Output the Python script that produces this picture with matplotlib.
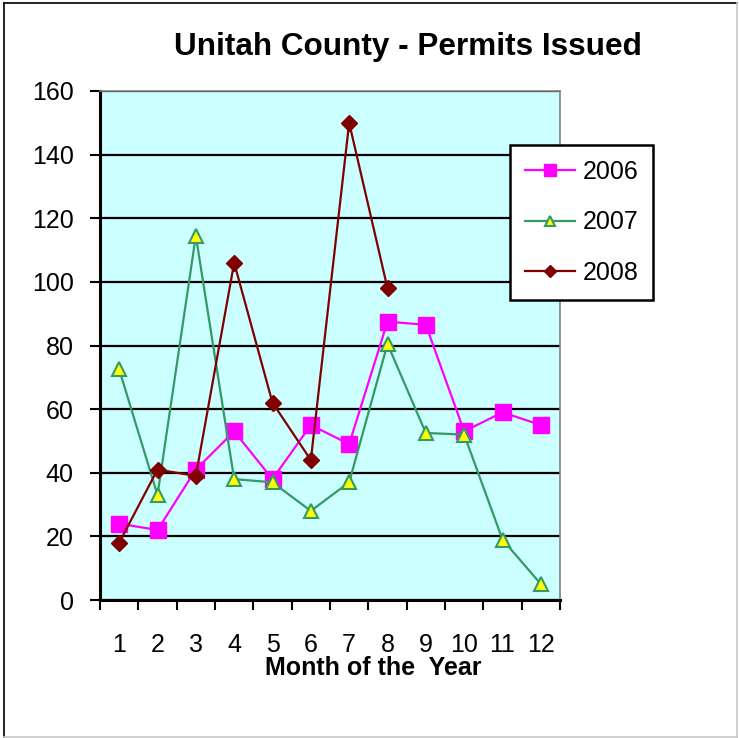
import matplotlib
matplotlib.use("Agg")
import matplotlib.pyplot as plt
from matplotlib.lines import Line2D

plt.rcParams['font.family'] = ['Liberation Sans', 'DejaVu Sans']

months = [1, 2, 3, 4, 5, 6, 7, 8, 9, 10, 11, 12]
month_labels = ['1', '2', '3', '4', '5', '6', '7', '8', '9', '10', '11', '12']
permits_2006 = [24, 22, 41, 53, 38, 55, 49, 87.5, 86.5, 53, 59, 55]
permits_2007 = [72.5, 33, 114.5, 38, 37, 28, 37, 80.5, 52.5, 52, 19, 5]
permits_2008 = [18, 41, 39, 106, 62, 44, 150, 98]
months_2008 = months[:len(permits_2008)]

W, H = 739, 738
fig = plt.figure(figsize=(W / 100, H / 100), dpi=100)
fig.patch.set_facecolor('white')

# outer border
fig.add_artist(Line2D([4 / W, 4 / W], [1 / H, 735 / H], color='black', lw=1.2))
fig.add_artist(Line2D([4 / W, 737 / W], [735 / H, 735 / H], color='black', lw=1.2))
fig.add_artist(Line2D([737 / W, 737 / W], [1 / H, 735 / H], color='#c8c8c8', lw=1.2))
fig.add_artist(Line2D([4 / W, 737 / W], [1 / H, 1 / H], color='#c8c8c8', lw=1.2))

ax = fig.add_axes([100 / W, (H - 600) / H, 460 / W, 509 / H])
ax.set_facecolor('#CCFFFF')

ax.plot(months, permits_2006, color='#FF00FF', lw=1.6, marker='s', ms=11.5,
        mfc='#FF00FF', mec='#FF00FF', label='2006', zorder=3)
ax.plot(months, permits_2007, color='#339966', lw=1.6, marker='^', ms=10.5,
        mfc='#FFFF00', mec='#339966', mew=1.5, label='2007', zorder=4)
ax.plot(months_2008, permits_2008, color='#800000', lw=1.6, marker='D', ms=8.5,
        mfc='#800000', mec='#800000', label='2008', zorder=5)

ax.set_xlim(0.5, 12.5)
ax.set_ylim(0, 160)
ax.set_yticks(range(0, 161, 20))
ax.yaxis.grid(True, color='black', lw=1.6)
ax.set_axisbelow(True)

ax.set_xticks([m - 0.5 for m in months] + [12.5])
ax.set_xticklabels([])
ax.set_xticks(months, minor=True)
ax.set_xticklabels(month_labels, minor=True)
ax.tick_params(axis='x', which='major', direction='out', length=7, width=1.5, color='black')
ax.tick_params(axis='x', which='minor', length=0, labelsize=18, pad=24)
ax.tick_params(axis='y', direction='out', length=7, width=1.5, labelsize=18, pad=12)

for s in ['left', 'bottom']:
    ax.spines[s].set_color('black')
    ax.spines[s].set_linewidth(2.2)
for s in ['top', 'right']:
    ax.spines[s].set_color('#808080')
    ax.spines[s].set_linewidth(1.2)

fig.text(408 / W, (H - 47) / H, 'Unitah County - Permits Issued', ha='center', va='center',
         fontsize=22.7, fontweight='bold')
fig.text(373 / W, (H - 668) / H, 'Month of the  Year', ha='center', va='center',
         fontsize=18, fontweight='bold')

leg = ax.legend(loc='upper left', bbox_to_anchor=(510 / W, (H - 145) / H),
                bbox_transform=fig.transFigure, borderaxespad=0, fontsize=18,
                frameon=True, fancybox=False,
                edgecolor='black', framealpha=1, labelspacing=1.05, handlelength=2.0,
                handletextpad=0.3, borderpad=0.6, markerscale=0.7)
leg.get_frame().set_linewidth(1.8)
leg.set_zorder(10)

fig.savefig('out.png', dpi=100)
